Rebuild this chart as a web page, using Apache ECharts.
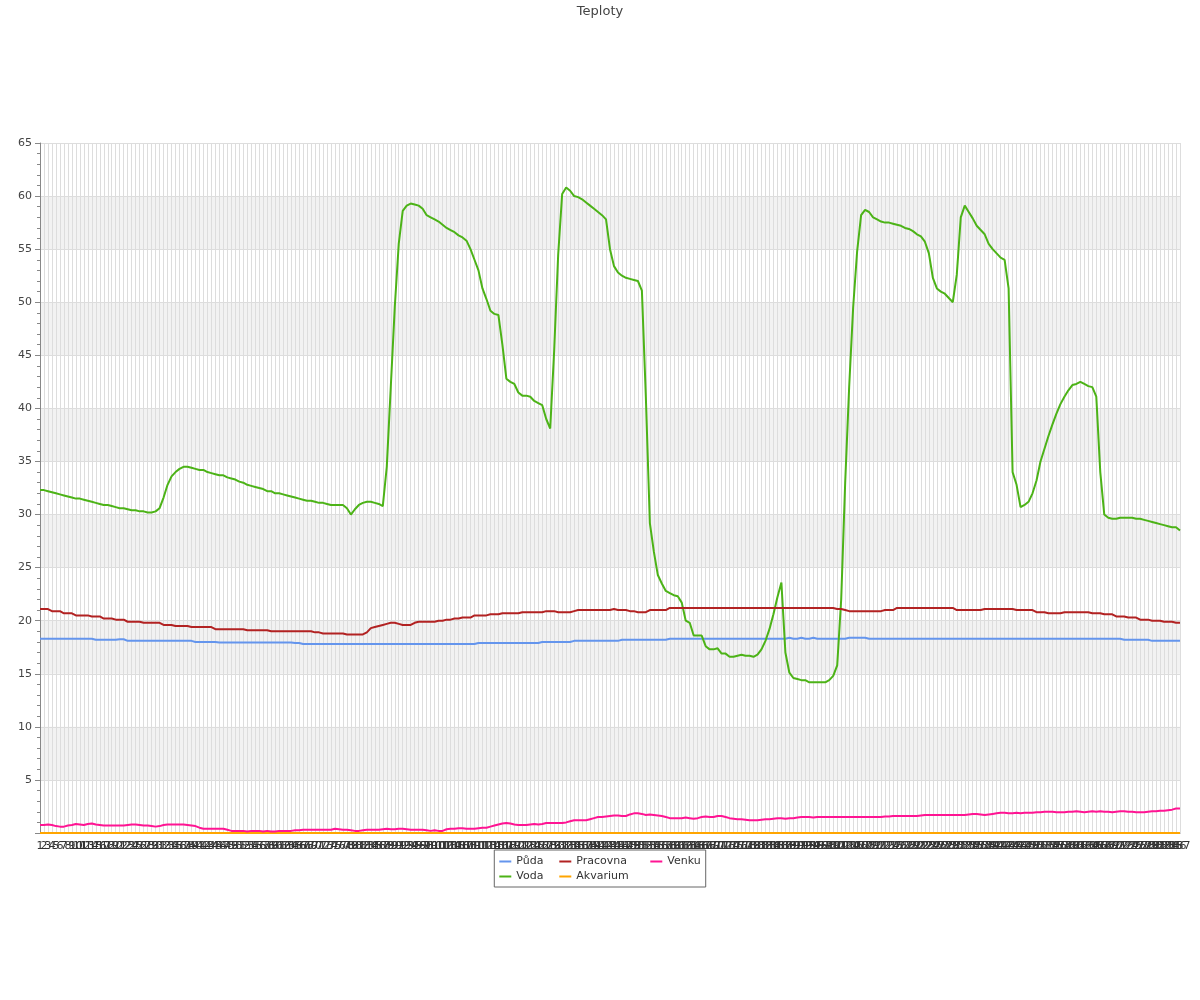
<!DOCTYPE html>
<html>
<head>
<meta charset="utf-8">
<script src="https://cdn.jsdelivr.net/npm/echarts@6/dist/echarts.min.js"></script>
<style>html,body{margin:0;padding:0;background:#fff}#c{width:1200px;height:1000px}</style>
</head>
<body>
<div id="c"></div>
<script>
const categories = [
1,2,3,4,5,6,7,8,9,10,11,12,13,14,15,16,17,18,19,20,21,22,23,24,25,26,27,28,29,30,
31,32,33,34,35,36,37,38,39,40,41,42,43,44,45,46,47,48,49,50,51,52,53,54,55,56,57,58,59,60,
61,62,63,64,65,66,67,68,69,70,71,72,73,74,75,76,77,78,79,80,81,82,83,84,85,86,87,88,89,90,
91,92,93,94,95,96,97,98,99,100,101,102,103,104,105,106,107,108,109,110,111,112,113,114,115,116,117,118,119,120,
121,122,123,124,125,126,127,128,129,130,131,132,133,134,135,136,137,138,139,140,141,142,143,144,145,146,147,148,149,150,
151,152,153,154,155,156,157,158,159,160,161,162,163,164,165,166,167,168,169,170,171,172,173,174,175,176,177,178,179,180,
181,182,183,184,185,186,187,188,189,190,191,192,193,194,195,196,197,198,199,200,201,202,203,204,205,206,207,208,209,210,
211,212,213,214,215,216,217,218,219,220,221,222,223,224,225,226,227,228,229,230,231,232,233,234,235,236,237,238,239,240,
241,242,243,244,245,246,247,248,249,250,251,252,253,254,255,256,257,258,259,260,261,262,263,264,265,266,267,268,269,270,
271,272,273,274,275,276,277,278,279,280,281,282,283,284,285,286,287
].map(String);

const puda = [
18.3,18.3,18.3,18.3,18.3,18.3,18.3,18.3,18.3,18.3,
18.3,18.3,18.3,18.3,18.2,18.2,18.2,18.2,18.2,18.2,
18.25,18.25,18.1,18.1,18.1,18.1,18.1,18.1,18.1,18.1,
18.1,18.1,18.1,18.1,18.1,18.1,18.1,18.1,18.1,18.0,
18.0,18.0,18.0,18.0,18.0,17.95,17.95,17.95,17.95,17.95,
17.95,17.95,17.95,17.95,17.95,17.95,17.95,17.95,17.95,17.95,
17.95,17.95,17.95,17.95,17.9,17.9,17.8,17.8,17.8,17.8,
17.8,17.8,17.8,17.8,17.8,17.8,17.8,17.8,17.8,17.8,
17.8,17.8,17.8,17.8,17.8,17.8,17.8,17.8,17.8,17.8,
17.8,17.8,17.8,17.8,17.8,17.8,17.8,17.8,17.8,17.8,
17.8,17.8,17.8,17.8,17.8,17.8,17.8,17.8,17.8,17.8,
17.9,17.9,17.9,17.9,17.9,17.9,17.9,17.9,17.9,17.9,
17.9,17.9,17.9,17.9,17.9,17.9,18.0,18.0,18.0,18.0,
18.0,18.0,18.0,18.0,18.1,18.1,18.1,18.1,18.1,18.1,
18.1,18.1,18.1,18.1,18.1,18.1,18.2,18.2,18.2,18.2,
18.2,18.2,18.2,18.2,18.2,18.2,18.2,18.2,18.3,18.3,
18.3,18.3,18.3,18.3,18.3,18.3,18.3,18.3,18.3,18.3,
18.3,18.3,18.3,18.3,18.3,18.3,18.3,18.3,18.3,18.3,
18.3,18.3,18.3,18.3,18.3,18.3,18.3,18.3,18.4,18.3,
18.3,18.4,18.3,18.3,18.4,18.3,18.3,18.3,18.3,18.3,
18.3,18.3,18.3,18.4,18.4,18.4,18.4,18.4,18.3,18.3,
18.3,18.3,18.3,18.3,18.3,18.3,18.3,18.3,18.3,18.3,
18.3,18.3,18.3,18.3,18.3,18.3,18.3,18.3,18.3,18.3,
18.3,18.3,18.3,18.3,18.3,18.3,18.3,18.3,18.3,18.3,
18.3,18.3,18.3,18.3,18.3,18.3,18.3,18.3,18.3,18.3,
18.3,18.3,18.3,18.3,18.3,18.3,18.3,18.3,18.3,18.3,
18.3,18.3,18.3,18.3,18.3,18.3,18.3,18.3,18.3,18.3,
18.3,18.3,18.2,18.2,18.2,18.2,18.2,18.2,18.2,18.1,
18.1,18.1,18.1,18.1,18.1,18.1,18.1
];

const voda = [
32.3,32.3,32.2,32.1,32.0,31.9,31.8,31.7,31.6,31.5,
31.5,31.4,31.3,31.2,31.1,31.0,30.9,30.9,30.8,30.7,
30.6,30.6,30.5,30.4,30.4,30.3,30.3,30.2,30.2,30.3,
30.6,31.6,32.8,33.6,34.0,34.3,34.5,34.5,34.4,34.3,
34.2,34.2,34.0,33.9,33.8,33.7,33.7,33.5,33.4,33.3,
33.1,33.0,32.8,32.7,32.6,32.5,32.4,32.2,32.2,32.0,
32.0,31.9,31.8,31.7,31.6,31.5,31.4,31.3,31.3,31.2,
31.1,31.1,31.0,30.9,30.9,30.9,30.9,30.6,30.0,30.5,
30.9,31.1,31.2,31.2,31.1,31.0,30.8,34.5,42.0,49.5,
55.5,58.6,59.1,59.3,59.2,59.1,58.8,58.2,58.0,57.8,
57.6,57.3,57.0,56.8,56.6,56.3,56.1,55.8,55.0,54.0,
53.0,51.3,50.3,49.2,48.9,48.8,46.0,42.8,42.5,42.3,
41.5,41.2,41.2,41.1,40.7,40.5,40.3,39.0,38.1,45.5,
54.5,60.2,60.8,60.5,60.0,59.9,59.7,59.4,59.1,58.8,
58.5,58.2,57.8,55.0,53.4,52.8,52.5,52.3,52.2,52.1,
52.0,51.1,41.0,29.2,26.5,24.3,23.5,22.8,22.6,22.4,
22.3,21.7,20.0,19.8,18.6,18.6,18.6,17.6,17.3,17.3,
17.4,16.9,16.9,16.6,16.6,16.7,16.8,16.7,16.7,16.6,
16.8,17.3,18.1,19.2,20.6,22.2,23.6,17.0,15.1,14.6,
14.5,14.4,14.4,14.2,14.2,14.2,14.2,14.2,14.4,14.8,
15.8,22.0,33.0,42.0,49.5,54.8,58.2,58.7,58.5,58.0,
57.8,57.6,57.5,57.5,57.4,57.3,57.2,57.0,56.9,56.7,
56.4,56.2,55.7,54.6,52.3,51.3,51.0,50.8,50.4,50.0,
52.6,58.0,59.1,58.5,57.9,57.2,56.8,56.4,55.5,55.0,
54.6,54.2,54.0,51.3,34.0,32.8,30.7,30.9,31.2,32.0,
33.2,35.0,36.2,37.4,38.5,39.5,40.4,41.1,41.7,42.2,
42.3,42.5,42.3,42.1,42.0,41.1,34.0,30.0,29.7,29.6,
29.6,29.7,29.7,29.7,29.7,29.6,29.6,29.5,29.4,29.3,
29.2,29.1,29.0,28.9,28.8,28.8,28.5
];

const pracovna = [
21.1,21.1,21.1,20.9,20.9,20.9,20.7,20.7,20.7,20.5,
20.5,20.5,20.5,20.4,20.4,20.4,20.2,20.2,20.2,20.1,
20.1,20.1,19.9,19.9,19.9,19.9,19.8,19.8,19.8,19.8,
19.8,19.6,19.6,19.6,19.5,19.5,19.5,19.5,19.4,19.4,
19.4,19.4,19.4,19.4,19.2,19.2,19.2,19.2,19.2,19.2,
19.2,19.2,19.1,19.1,19.1,19.1,19.1,19.1,19.0,19.0,
19.0,19.0,19.0,19.0,19.0,19.0,19.0,19.0,19.0,18.9,
18.9,18.8,18.8,18.8,18.8,18.8,18.8,18.7,18.7,18.7,
18.7,18.7,18.9,19.3,19.4,19.5,19.6,19.7,19.8,19.8,
19.7,19.6,19.6,19.6,19.8,19.9,19.9,19.9,19.9,19.9,
20.0,20.0,20.1,20.1,20.2,20.2,20.3,20.3,20.3,20.5,
20.5,20.5,20.5,20.6,20.6,20.6,20.7,20.7,20.7,20.7,
20.7,20.8,20.8,20.8,20.8,20.8,20.8,20.9,20.9,20.9,
20.8,20.8,20.8,20.8,20.9,21.0,21.0,21.0,21.0,21.0,
21.0,21.0,21.0,21.0,21.1,21.0,21.0,21.0,20.9,20.9,
20.8,20.8,20.8,21.0,21.0,21.0,21.0,21.0,21.2,21.2,
21.2,21.2,21.2,21.2,21.2,21.2,21.2,21.2,21.2,21.2,
21.2,21.2,21.2,21.2,21.2,21.2,21.2,21.2,21.2,21.2,
21.2,21.2,21.2,21.2,21.2,21.2,21.2,21.2,21.2,21.2,
21.2,21.2,21.2,21.2,21.2,21.2,21.2,21.2,21.2,21.2,
21.1,21.1,21.0,20.9,20.9,20.9,20.9,20.9,20.9,20.9,
20.9,20.9,21.0,21.0,21.0,21.2,21.2,21.2,21.2,21.2,
21.2,21.2,21.2,21.2,21.2,21.2,21.2,21.2,21.2,21.2,
21.0,21.0,21.0,21.0,21.0,21.0,21.0,21.1,21.1,21.1,
21.1,21.1,21.1,21.1,21.1,21.0,21.0,21.0,21.0,21.0,
20.8,20.8,20.8,20.7,20.7,20.7,20.7,20.8,20.8,20.8,
20.8,20.8,20.8,20.8,20.7,20.7,20.7,20.6,20.6,20.6,
20.4,20.4,20.4,20.3,20.3,20.3,20.1,20.1,20.1,20.0,
20.0,20.0,19.9,19.9,19.9,19.8,19.8
];

const akvarium = [
0,0,0,0,0,0,0,0,0,0, 0,0,0,0,0,0,0,0,0,0, 0,0,0,0,0,0,0,0,0,0,
0,0,0,0,0,0,0,0,0,0, 0,0,0,0,0,0,0,0,0,0, 0,0,0,0,0,0,0,0,0,0,
0,0,0,0,0,0,0,0,0,0, 0,0,0,0,0,0,0,0,0,0, 0,0,0,0,0,0,0,0,0,0,
0,0,0,0,0,0,0,0,0,0, 0,0,0,0,0,0,0,0,0,0, 0,0,0,0,0,0,0,0,0,0,
0,0,0,0,0,0,0,0,0,0, 0,0,0,0,0,0,0,0,0,0, 0,0,0,0,0,0,0,0,0,0,
0,0,0,0,0,0,0,0,0,0, 0,0,0,0,0,0,0,0,0,0, 0,0,0,0,0,0,0,0,0,0,
0,0,0,0,0,0,0,0,0,0, 0,0,0,0,0,0,0,0,0,0, 0,0,0,0,0,0,0,0,0,0,
0,0,0,0,0,0,0,0,0,0, 0,0,0,0,0,0,0,0,0,0, 0,0,0,0,0,0,0,0,0,0,
0,0,0,0,0,0,0,0,0,0, 0,0,0,0,0,0,0,0,0,0, 0,0,0,0,0,0,0,0,0,0,
0,0,0,0,0,0,0,0,0,0,
0,0,0,0,0,0,0
];

const venku = [
0.75,0.75,0.8,0.75,0.65,0.6,0.6,0.7,0.75,0.85,
0.8,0.75,0.85,0.9,0.8,0.75,0.7,0.7,0.7,0.7,
0.7,0.7,0.75,0.8,0.8,0.75,0.7,0.7,0.65,0.6,
0.65,0.75,0.8,0.8,0.8,0.8,0.8,0.75,0.7,0.65,
0.5,0.4,0.4,0.4,0.4,0.4,0.4,0.3,0.2,0.2,
0.2,0.2,0.15,0.2,0.2,0.2,0.15,0.2,0.15,0.15,
0.2,0.2,0.2,0.2,0.25,0.25,0.3,0.3,0.3,0.3,
0.3,0.3,0.3,0.3,0.4,0.35,0.3,0.3,0.25,0.2,
0.2,0.25,0.3,0.3,0.3,0.3,0.35,0.4,0.35,0.35,
0.4,0.4,0.35,0.3,0.3,0.3,0.3,0.25,0.2,0.25,
0.2,0.2,0.35,0.4,0.4,0.45,0.45,0.4,0.4,0.4,
0.45,0.5,0.5,0.6,0.7,0.8,0.9,0.95,0.9,0.8,
0.75,0.75,0.75,0.8,0.85,0.8,0.85,0.95,0.95,0.95,
0.95,0.95,1.0,1.1,1.2,1.2,1.2,1.2,1.3,1.4,
1.5,1.5,1.55,1.6,1.65,1.65,1.6,1.6,1.75,1.85,
1.85,1.8,1.7,1.75,1.7,1.65,1.6,1.5,1.4,1.4,
1.4,1.4,1.45,1.4,1.35,1.4,1.5,1.55,1.5,1.5,
1.6,1.6,1.5,1.4,1.35,1.3,1.3,1.25,1.2,1.2,
1.2,1.25,1.3,1.3,1.35,1.4,1.4,1.35,1.4,1.4,
1.45,1.5,1.5,1.5,1.45,1.5,1.5,1.5,1.5,1.5,
1.5,1.5,1.5,1.5,1.5,1.5,1.5,1.5,1.5,1.5,
1.5,1.5,1.55,1.55,1.6,1.6,1.6,1.6,1.6,1.6,
1.6,1.65,1.7,1.7,1.7,1.7,1.7,1.7,1.7,1.7,
1.7,1.7,1.7,1.75,1.8,1.8,1.75,1.7,1.75,1.8,
1.85,1.9,1.9,1.85,1.85,1.9,1.85,1.9,1.9,1.9,
1.95,1.95,2.0,2.0,2.0,1.95,1.95,1.95,2.0,2.0,
2.05,2.0,1.95,2.0,2.05,2.0,2.05,2.0,2.0,1.95,
2.0,2.05,2.05,2.0,2.0,1.95,1.95,1.95,2.0,2.05,
2.05,2.1,2.1,2.15,2.2,2.3,2.3
];

const seriesNames = ['Půda', 'Voda', 'Pracovna', 'Akvarium', 'Venku'];
const seriesColors = ['#6495ed', '#4cb317', '#b22222', '#ffa500', '#ff1493'];
const seriesData = [puda, voda, pracovna, akvarium, venku];
const legendCol = { 'Půda': 'c1', 'Voda': 'c1', 'Pracovna': 'c2', 'Akvarium': 'c2', 'Venku': 'c3' };

const chart = echarts.init(document.getElementById('c'), null, { renderer: 'canvas' });
chart.setOption({
  animation: false,
  backgroundColor: '#ffffff',
  textStyle: { fontFamily: 'DejaVu Sans' },
  color: seriesColors,
  title: {
    text: 'Teploty', left: 'center', top: 0, padding: [5, 0, 0, 0],
    textStyle: { fontSize: 13, fontWeight: 'normal', color: '#444', fontFamily: 'DejaVu Sans' }
  },
  legend: {
    orient: 'vertical', left: 'center', top: 850, height: 30,
    itemGap: 4, padding: [6, 5, 5, 5],
    borderColor: '#666', borderWidth: 1,
    icon: 'rect', itemWidth: 12, itemHeight: 2,
    data: seriesNames,
    formatter: n => '{' + legendCol[n] + '|' + n + '}',
    textStyle: {
      fontSize: 11, color: '#333', fontFamily: 'DejaVu Sans',
      rich: {
        c1: { width: 39, fontSize: 11, lineHeight: 13, fontFamily: 'DejaVu Sans', color: '#333' },
        c2: { width: 70, fontSize: 11, lineHeight: 13, fontFamily: 'DejaVu Sans', color: '#333' },
        c3: { width: 31, fontSize: 11, lineHeight: 13, fontFamily: 'DejaVu Sans', color: '#333' }
      }
    }
  },
  grid: { left: 40, right: 20, top: 143, bottom: 167, containLabel: false, outerBoundsMode: 'none' },
  xAxis: {
    type: 'category', data: categories, boundaryGap: false,
    axisLine: { show: true, lineStyle: { color: '#888' } },
    axisTick: { show: false },
    axisLabel: { interval: 0, fontSize: 11, color: '#333', margin: 8 },
    splitLine: { show: true, interval: 0, lineStyle: { color: '#ddd', width: 1 } }
  },
  yAxis: {
    type: 'value', min: 0, max: 65, interval: 5,
    axisLine: { show: true, lineStyle: { color: '#888' } },
    axisTick: { show: true, length: 5, lineStyle: { color: '#888' } },
    minorTick: { show: true, splitNumber: 5, length: 3, lineStyle: { color: '#888' } },
    axisLabel: { fontSize: 11, color: '#444', showMinLabel: false },
    splitLine: { show: true, lineStyle: { color: '#ddd' } },
    splitArea: { show: true, areaStyle: { color: ['rgba(255,255,255,0)', '#f2f2f2'] } }
  },
  series: seriesNames.map((name, k) => ({
    name: name, type: 'line', data: seriesData[k],
    showSymbol: false, symbol: 'none',
    lineStyle: { width: 2, color: seriesColors[k] },
    itemStyle: { color: seriesColors[k] }
  }))
});
</script>
</body>
</html>
